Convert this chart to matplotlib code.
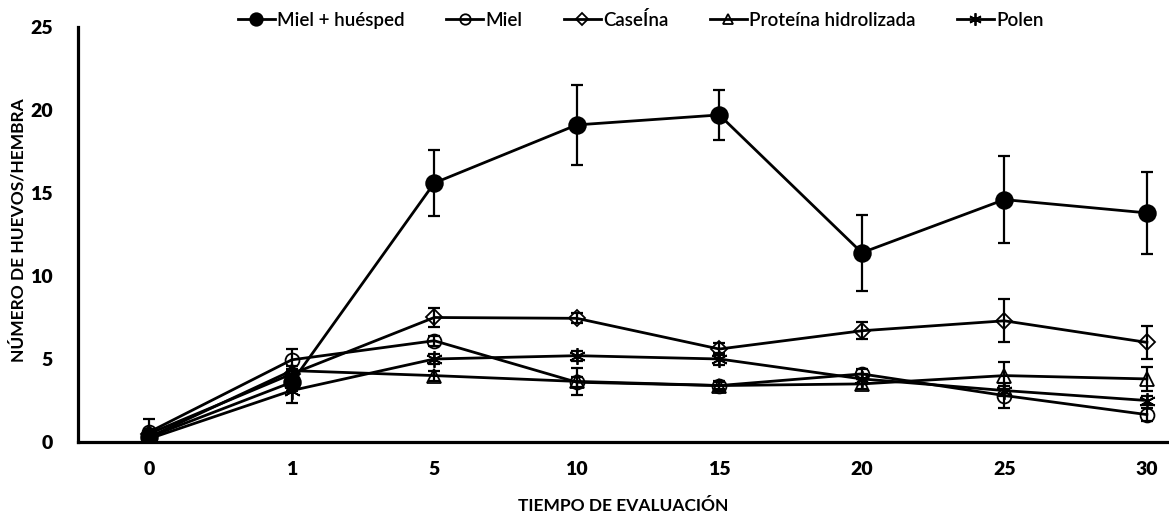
import matplotlib
matplotlib.use("Agg")
import matplotlib.pyplot as plt
import numpy as np

plt.rcParams['font.family'] = ['Lato', 'DejaVu Sans']

tiempos = ["0", "1", "5", "10", "15", "20", "25", "30"]

legend_names = ["Miel + huésped", "Miel", "CaseÍna", "Proteína hidrolizada", "Polen"]

miel_huesped = [0.3, 3.6, 15.6, 19.1, 19.7, 11.4, 14.6, 13.8]
miel_huesped_err = [0.3, 0.5, 2.0, 2.4, 1.5, 2.3, 2.6, 2.45]

miel = [0.6, 4.95, 6.1, 3.6, 3.4, 4.1, 2.8, 1.65]
miel_err = [0.8, 0.65, 0.3, 0.3, 0.2, 0.3, 0.75, 0.4]

caseina = [0.5, 4.1, 7.5, 7.45, 5.6, 6.7, 7.3, 6.0]
caseina_err = [0.3, 0.3, 0.6, 0.3, 0.35, 0.5, 1.3, 1.0]

proteina = [0.3, 4.3, 4.0, 3.65, 3.4, 3.5, 4.0, 3.8]
proteina_err = [0.2, 0.3, 0.3, 0.8, 0.3, 0.3, 0.8, 0.7]

polen = [0.2, 3.1, 5.0, 5.2, 5.0, 3.8, 3.1, 2.5]
polen_err = [0.2, 0.75, 0.3, 0.3, 0.35, 0.3, 0.3, 0.3]

values = [miel_huesped, miel, caseina, proteina, polen]
errors = [miel_huesped_err, miel_err, caseina_err, proteina_err, polen_err]
markers = ['o', 'o', 'D', '^', (6, 2, 0)]
facecolors = ['black', 'none', 'none', 'none', 'black']
msizes = [12, 10, 8, 10, 12]

fig = plt.figure(figsize=(11.69, 5.18), dpi=100)
ax = fig.add_axes([0.0667, 0.1467, 0.9333, 0.8013])

x = np.arange(len(tiempos))
handles = []
for name, vals, errs, mk, fc, ms in zip(legend_names, values, errors, markers, facecolors, msizes):
    ax.errorbar(x, vals, yerr=errs, fmt='none', ecolor='black', elinewidth=1.6,
                capsize=4, capthick=1.6, zorder=3)
    h, = ax.plot(x, vals, color='black', lw=2.0, marker=mk, markersize=ms,
                 markerfacecolor=fc, markeredgecolor='black', markeredgewidth=1.3,
                 label=name, zorder=4)
    handles.append(h)

ax.set_xlim(-0.5, 7.155)
ax.set_ylim(0, 25)
ax.set_xticks(x)
ax.set_xticklabels(tiempos)
ax.set_yticks([0, 5, 10, 15, 20, 25])
ax.tick_params(axis='both', length=0, labelsize=14, pad=14)
for lab in ax.get_xticklabels() + ax.get_yticklabels():
    lab.set_fontweight('heavy')
ax.tick_params(axis='y', pad=18)

for s in ['top', 'right']:
    ax.spines[s].set_visible(False)
for s in ['left', 'bottom']:
    ax.spines[s].set_linewidth(2.3)

ax.set_xlabel("TIEMPO DE EVALUACIÓN", fontsize=12.5, fontweight='bold', labelpad=14)
ax.set_ylabel("NÚMERO DE HUEVOS/HEMBRA", fontsize=12.5, fontweight='bold')
ax.yaxis.set_label_coords(-0.047, 0.51)

leg = fig.legend(handles=handles, loc='center', bbox_to_anchor=(0.548, 0.962), ncol=5,
                 frameon=False, handlelength=2.0, handletextpad=0.1,
                 columnspacing=2.2, markerscale=0.75,
                 prop={'size': 13.5, 'weight': 'semibold'})

fig.savefig("out.png", dpi=100)
